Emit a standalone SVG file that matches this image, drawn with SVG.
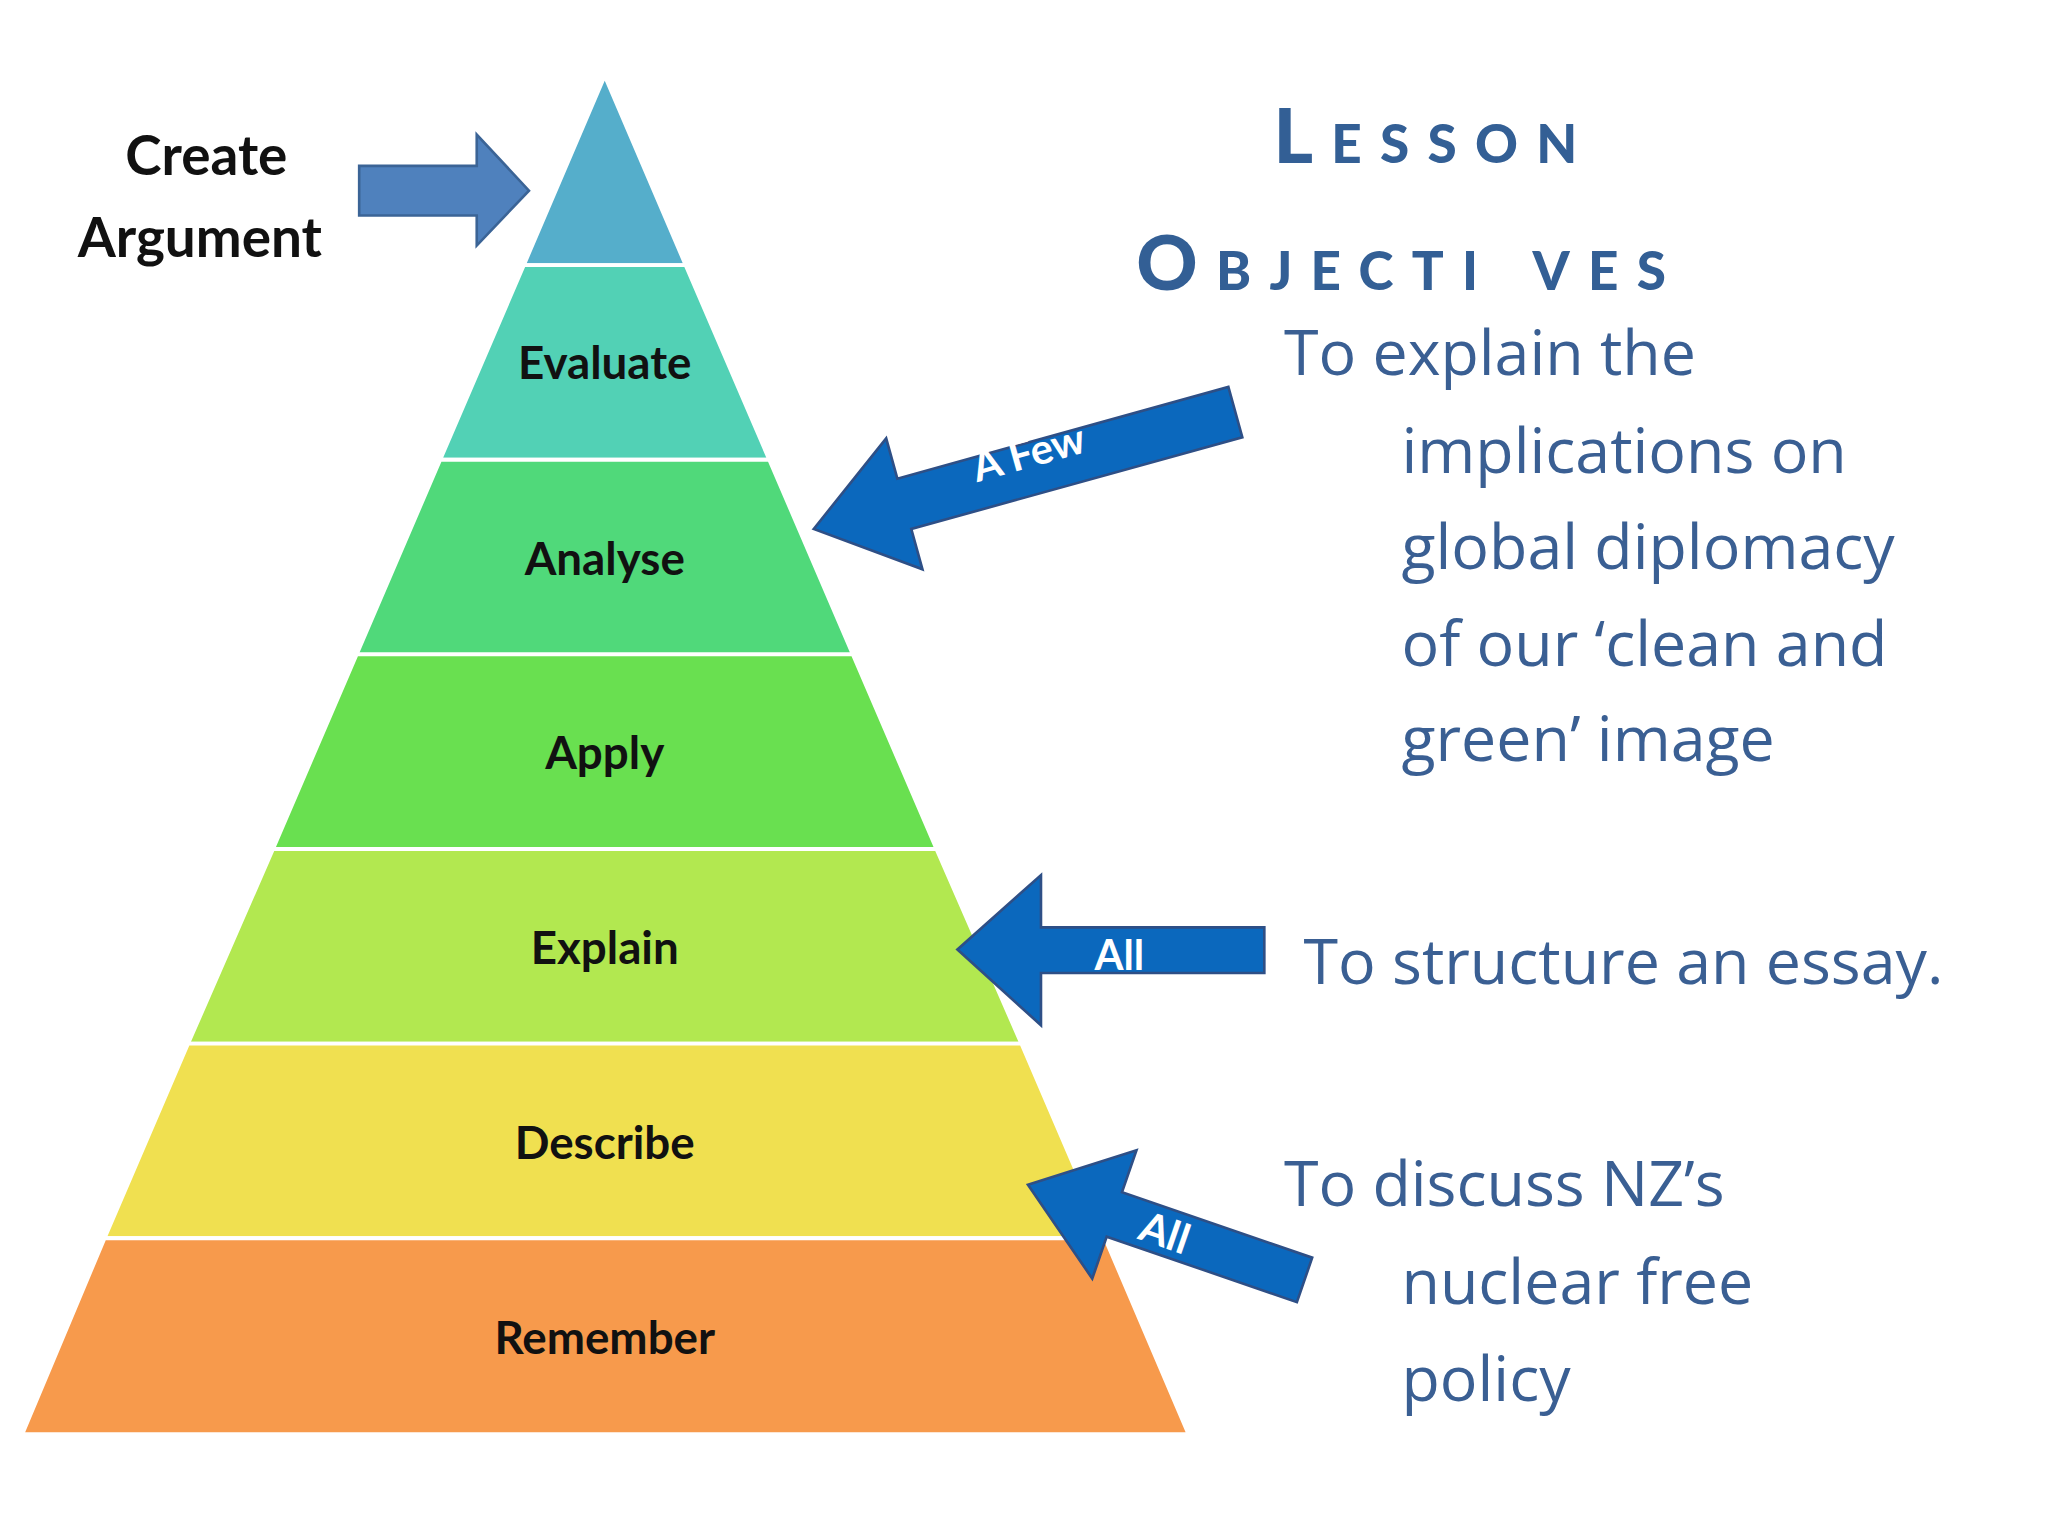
<svg xmlns="http://www.w3.org/2000/svg" width="2048" height="1536" viewBox="0 0 2048 1536">
<style>
.lbl{font-family:Lato,"Open Sans",sans-serif;font-weight:bold;font-size:35px;fill:#111;text-anchor:middle}
.body{font-family:"Open Sans",Lato,sans-serif;font-size:48px;fill:#3A5F93}
.head{font-family:Lato,sans-serif;font-weight:900;fill:#335F95;font-variant:small-caps}
.band{stroke:#fff;stroke-width:3}
.arr{fill:#0B68BD;stroke:#2E4F86;stroke-width:2}
.at{font-family:Lato,sans-serif;font-weight:bold;font-size:32px;fill:#fff}
</style>
<rect width="2048" height="1536" fill="#fff"/>
<g transform="scale(1.30612)">
<g id="pyramid">
<polygon class="band" fill="#55AECB" points="463,58 525,203 401,203"/>
<polygon class="band" fill="#52D1B5" points="401,203 525,203 589,352 337,352"/>
<polygon class="band" fill="#50D97A" points="337,352 589,352 653,501 273,501"/>
<polygon class="band" fill="#69E050" points="273,501 653,501 717,650 209,650"/>
<polygon class="band" fill="#B2E850" points="209,650 717,650 782,799 144,799"/>
<polygon class="band" fill="#F0E050" points="144,799 782,799 846,948 80,948"/>
<polygon class="band" fill="#F79A4C" points="80,948 846,948 910,1098 17,1098"/>
<text class="lbl" x="463" y="290">Evaluate</text>
<text class="lbl" x="463" y="440">Analyse</text>
<text class="lbl" x="463" y="589">Apply</text>
<text class="lbl" x="463" y="738">Explain</text>
<text class="lbl" x="463" y="887">Describe</text>
<text class="lbl" x="463" y="1037">Remember</text>
</g>
<g id="create">
<text class="lbl" style="font-size:42px" x="158" y="134">Create</text>
<text class="lbl" style="font-size:42px" x="153" y="197">Argument</text>
</g>
<g id="connectors">
<polygon points="275,127 365,127 365,103 405,146 365,188 365,165 275,165" fill="#4F81BD" stroke="#3B6496" stroke-width="2"/>
<g transform="translate(623,405) rotate(-15.5)">
<polygon class="arr" points="0,0 72,-52 72,-20 335,-20 335,20 72,20 72,52"/>
<text class="at" x="130" y="-1">A Few</text>
</g>
<polygon class="arr" points="733,727 797,670 797,710 968,710 968,745 797,745 797,785"/>
<text class="at" x="838" y="743">All</text>
<g transform="translate(787,907) rotate(19)">
<polygon class="arr" points="0,0 70,-52 70,-18 224,-18 224,18 70,18 70,52"/>
<text class="at" x="92" y="12">All</text>
</g>
</g>
<g id="objectives">
<text class="head" x="975" y="125" font-size="58" letter-spacing="14">Lesson</text>
<text class="head" x="870" y="222" font-size="58" letter-spacing="14">Objecti ves</text>
<text class="body" x="983" y="287">To explain the</text>
<text class="body" x="1073" y="362">implications on</text>
<text class="body" x="1073" y="436">global diplomacy</text>
<text class="body" x="1073" y="510">of our ‘clean and</text>
<text class="body" x="1073" y="583">green’ image</text>
<text class="body" x="998" y="753">To structure an essay.</text>
<text class="body" x="983" y="923">To discuss NZ’s</text>
<text class="body" x="1073" y="998">nuclear free</text>
<text class="body" x="1073" y="1073">policy</text>
</g>
</g>
</svg>
